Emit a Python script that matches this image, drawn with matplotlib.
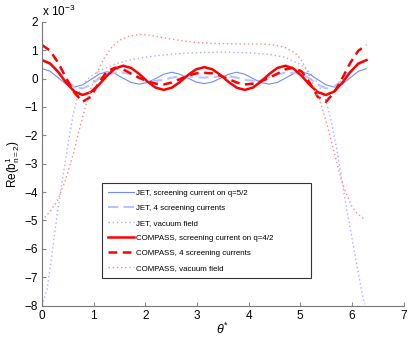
import numpy as np
import matplotlib
matplotlib.use("Agg")
import matplotlib.pyplot as plt

plt.rcParams['font.family'] = ['Liberation Sans', 'DejaVu Sans']
plt.rcParams['mathtext.fontset'] = 'custom'
plt.rcParams['mathtext.rm'] = 'Liberation Sans'
plt.rcParams['mathtext.it'] = 'Liberation Sans:italic'

# theta grid for the oscillating curves (step pi/20)
theta = np.linspace(0, 2 * np.pi, 41)

jet_screen = [0.35, 0.255, 0.025, -0.205, -0.30, -0.224, -0.04, 0.15, 0.24, 0.17, 0.01,
              -0.14, -0.20, -0.141, 0.0, 0.15, 0.22, 0.15, 0.01, -0.124, -0.18,
              -0.124, 0.01, 0.15, 0.22, 0.15, 0.0, -0.141, -0.20, -0.14, 0.01,
              0.17, 0.24, 0.15, -0.04, -0.224, -0.30, -0.205, 0.025, 0.255, 0.35]

jet_4screen = [0.63, 0.50, 0.25, -0.05, -0.30, -0.35, -0.22, 0.0, 0.15, 0.20, 0.20,
               0.15, 0.05, -0.05, -0.08, -0.05, 0.03, 0.08, 0.07, 0.05, 0.03,
               0.05, 0.07, 0.08, 0.03, -0.05, -0.08, -0.05, 0.05, 0.15, 0.20,
               0.20, 0.15, 0.0, -0.22, -0.35, -0.30, -0.05, 0.25, 0.50, 0.63]

compass_screen = [0.65, 0.53, 0.225, -0.155, -0.46, -0.58, -0.48, -0.224, 0.094, 0.35, 0.45,
                  0.37, 0.156, -0.106, -0.32, -0.40, -0.324, -0.124, 0.124, 0.324, 0.40,
                  0.324, 0.124, -0.124, -0.324, -0.40, -0.32, -0.106, 0.156, 0.37, 0.45,
                  0.35, 0.094, -0.224, -0.48, -0.58, -0.46, -0.155, 0.225, 0.53, 0.65]

compass_4screen = [1.18, 0.98, 0.55, 0.0, -0.50, -0.82, -0.65, -0.15, 0.25, 0.38, 0.32,
                   0.17, 0.02, -0.10, -0.18, -0.21, -0.14, -0.02, 0.10, 0.18, 0.20,
                   0.18, 0.10, -0.02, -0.14, -0.21, -0.18, -0.10, 0.02, 0.17, 0.32,
                   0.38, 0.25, -0.15, -0.65, -0.82, -0.50, 0.0, 0.55, 0.98, 1.18]

jet_vac_theta = [0.0, 0.1, 0.2, 0.3, 0.4, 0.5, 0.6, 0.7, 0.8, 0.9, 1.0, 1.2, 1.4, 1.7,
                 2.0, 2.3, 2.7, 3.14, 3.6, 4.0, 4.4, 4.7, 5.0, 5.2, 5.35, 5.5, 5.6,
                 5.7, 5.8, 5.9, 6.0, 6.1, 6.2, 6.25]
jet_vac = [-8.0, -7.4, -6.1, -4.7, -3.5, -2.35, -1.3, -0.55, -0.2, 0.0, 0.15, 0.35, 0.5,
           0.65, 0.75, 0.82, 0.88, 0.92, 0.93, 0.9, 0.85, 0.75, 0.5, 0.2, -0.2, -0.8,
           -1.5, -2.4, -3.5, -4.6, -5.6, -6.6, -7.6, -7.95]

compass_vac_theta = [0.0, 0.15, 0.3, 0.45, 0.6, 0.75, 0.9, 1.05, 1.2, 1.35, 1.5, 1.7,
                     1.9, 2.1, 2.4, 2.7, 3.0, 3.4, 3.8, 4.2, 4.5, 4.7, 4.9, 5.0, 5.1,
                     5.2, 5.3, 5.4, 5.5, 5.6, 5.7, 5.8, 5.9, 6.0, 6.1, 6.2, 6.25]
compass_vac = [-5.0, -4.7, -4.3, -3.6, -2.7, -1.6, -0.6, 0.15, 0.7, 1.1, 1.35, 1.5,
               1.55, 1.52, 1.42, 1.33, 1.27, 1.23, 1.22, 1.22, 1.18, 1.1, 0.9, 0.7, 0.4,
               0.0, -0.45, -0.9, -1.5, -2.2, -2.9, -3.6, -4.1, -4.5, -4.75, -4.9, -4.97]

labels = ['JET, screening current on q=5/2',
          'JET, 4 screening currents',
          'JET, vacuum field',
          'COMPASS, screening current on q=4/2',
          'COMPASS, 4 screening currents',
          'COMPASS, vacuum field']

x_ticks = [0, 1, 2, 3, 4, 5, 6, 7]
y_ticks = [-8, -7, -6, -5, -4, -3, -2, -1, 0, 1, 2]

fig = plt.figure(figsize=(4.09, 3.37), dpi=100)
ax = fig.add_axes([0.1027, 0.0929, 0.8839, 0.8427])

ax.plot(theta, jet_screen, color='#6f8cff', lw=0.8, label=labels[0])
ax.plot(theta, jet_4screen, color='#b4c6ff', lw=1.5, dashes=(5, 2.5), label=labels[1])
ax.plot(jet_vac_theta, jet_vac, color='#aab2ff', lw=1.0, ls=(0, (1, 2)), label=labels[2])
ax.plot(theta, compass_screen, color='#ff0000', lw=1.8, label=labels[3])
ax.plot(theta, compass_4screen, color='#ff0000', lw=1.8, dashes=(3.5, 2.2), label=labels[4])
ax.plot(compass_vac_theta, compass_vac, color='#ff8a8a', lw=1.0, ls=(0, (1, 2)), label=labels[5])

ax.set_xlim(0, 7)
ax.set_ylim(-8, 2)
ax.set_xticks(x_ticks)
ax.set_yticks(y_ticks)
ax.set_yticklabels([('\u2212%d' % -t) if t < 0 else str(t) for t in y_ticks])

for s in ['top', 'right']:
    ax.spines[s].set_visible(False)
for s in ['left', 'bottom']:
    ax.spines[s].set_color('#777777')
    ax.spines[s].set_linewidth(0.8)
ax.tick_params(direction='in', length=3, width=0.8, color='#888888', labelsize=8.5, pad=3)

ax.set_xlabel(r'$\theta^{*}$', fontsize=9, labelpad=0)
ax.set_ylabel(r'Re(b$^{1}_{\mathrm{n=2}}$)', fontsize=8.5, labelpad=1.5)

fig.text(42 / 409, 1 - 16 / 337, r'x 10$^{-3}$', fontsize=8.5, ha='left', va='baseline')

leg = ax.legend(loc='lower left', bbox_to_anchor=(0.165, 0.0975, 0.579, 0.3345),
                mode='expand', fontsize=5.7, handlelength=3.3, handletextpad=0.25,
                borderpad=0.75, labelspacing=0.95, fancybox=False, framealpha=1,
                edgecolor='#333333', borderaxespad=0)
leg.get_frame().set_linewidth(0.8)

fig.savefig('out.png', dpi=100)
